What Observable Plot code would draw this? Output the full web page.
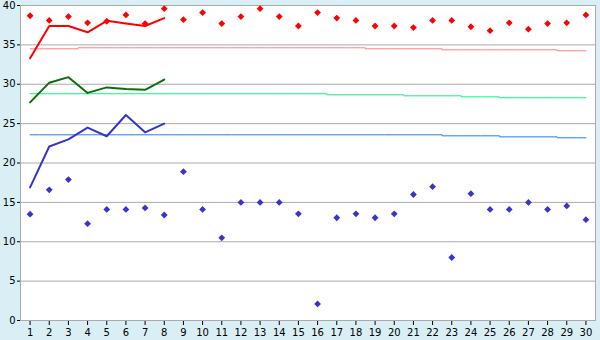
<!DOCTYPE html>
<html>
<head>
<meta charset="utf-8">
<script src="https://cdn.jsdelivr.net/npm/d3@7"></script>
<script src="https://cdn.jsdelivr.net/npm/@observablehq/plot@0.6"></script>
<style>
  html, body { margin: 0; padding: 0; background: #d9eff5; }
  #chart { width: 600px; height: 340px; }
</style>
</head>
<body>
<div id="chart"></div>
<script>
const days = [1,2,3,4,5,6,7,8,9,10,11,12,13,14,15,16,17,18,19,20,21,22,23,24,25,26,27,28,29,30];
const yTicks = [0,5,10,15,20,25,30,35,40];

// daily maxima (red diamonds)
const redMax = [38.7,38.1,38.6,37.8,38.0,38.8,37.7,39.6,38.2,39.1,37.7,38.6,39.6,38.6,37.4,39.1,38.4,38.1,37.4,37.4,37.2,38.1,38.1,37.3,36.8,37.8,37.0,37.7,37.8,38.8];
// daily minima (blue diamonds)
const blueMin = [13.5,16.6,17.9,12.3,14.1,14.1,14.3,13.4,18.9,14.1,10.5,15.0,15.0,15.0,13.55,2.1,13.05,13.55,13.05,13.55,16.0,17.0,8.0,16.1,14.1,14.1,15.0,14.1,14.55,12.8];

// current series, days 1-8
const lineDays = [1,2,3,4,5,6,7,8];
const redLine = [33.3,37.4,37.4,36.6,38.05,37.7,37.4,38.4];
const greenLine = [27.7,30.2,30.9,28.9,29.6,29.4,29.3,30.6];
const blueLine = [16.9,22.1,23.0,24.5,23.4,26.1,23.9,25.0];

// long-term averages (step lines)
const redAvg = [34.5,34.5,34.5,34.63,34.63,34.63,34.63,34.63,34.63,34.63,34.63,34.63,34.63,34.63,34.63,34.63,34.63,34.63,34.5,34.5,34.5,34.5,34.37,34.37,34.37,34.37,34.37,34.37,34.25,34.25];
const greenAvg = [28.79,28.79,28.79,28.79,28.79,28.79,28.79,28.79,28.79,28.79,28.79,28.79,28.79,28.79,28.79,28.79,28.66,28.66,28.66,28.66,28.53,28.53,28.53,28.4,28.4,28.28,28.28,28.28,28.28,28.28];
const blueAvg = [23.58,23.58,23.58,23.58,23.58,23.58,23.58,23.58,23.58,23.58,23.58,23.58,23.58,23.58,23.58,23.58,23.58,23.58,23.58,23.58,23.58,23.58,23.45,23.45,23.45,23.32,23.32,23.32,23.2,23.2];

const gridLines = [5,10,15,20,25,30,35];

const daily = days.map((d, i) => ({day: d, max: redMax[i], min: blueMin[i], ra: redAvg[i], ga: greenAvg[i], ba: blueAvg[i]}));
const cur = lineDays.map((d, i) => ({day: d, r: redLine[i], g: greenLine[i], b: blueLine[i]}));

// square (equal-diagonal) diamond marker
const rhombus = {
  draw(context, size) {
    const s = Math.sqrt(size / Math.PI);
    context.moveTo(0, -s);
    context.lineTo(s, 0);
    context.lineTo(0, s);
    context.lineTo(-s, 0);
    context.closePath();
  }
};

const chart = Plot.plot({
  width: 600,
  height: 340,
  marginLeft: 20,
  marginRight: 5,
  marginTop: 5,
  marginBottom: 20,
  style: {background: "#d9eff5", fontFamily: "DejaVu Sans", fontSize: "10px", color: "#000", overflow: "visible"},
  x: {domain: [0.5, 30.5], ticks: days, tickSize: 5, tickPadding: 3, label: null, tickFormat: d => String(d)},
  y: {domain: [0, 40], ticks: yTicks, tickSize: 3, tickPadding: 2, label: null},
  marks: [
    Plot.frame({fill: "white", stroke: null}),
    Plot.ruleY(gridLines, {stroke: "#aaaaaa", strokeWidth: 1}),
    Plot.frame({stroke: "#aaaaaa", strokeWidth: 1}),
    Plot.line(daily, {x: "day", y: "ra", curve: "step", stroke: "#ff8080", strokeWidth: 1}),
    Plot.line(daily, {x: "day", y: "ga", curve: "step", stroke: "#10f080", strokeWidth: 1}),
    Plot.line(daily, {x: "day", y: "ba", curve: "step", stroke: "#1a80ff", strokeWidth: 1}),
    Plot.line(cur, {x: "day", y: "r", stroke: "#ff0000", strokeWidth: 2}),
    Plot.line(cur, {x: "day", y: "g", stroke: "#0b6e0b", strokeWidth: 2}),
    Plot.line(cur, {x: "day", y: "b", stroke: "#3535cc", strokeWidth: 2}),
    Plot.dot(daily, {x: "day", y: "max", symbol: rhombus, r: 3.4, fill: "#ff0000", stroke: null}),
    Plot.dot(daily, {x: "day", y: "min", symbol: rhombus, r: 3.4, fill: "#3535cc", stroke: null})
  ]
});
document.getElementById("chart").appendChild(chart);
</script>
</body>
</html>
